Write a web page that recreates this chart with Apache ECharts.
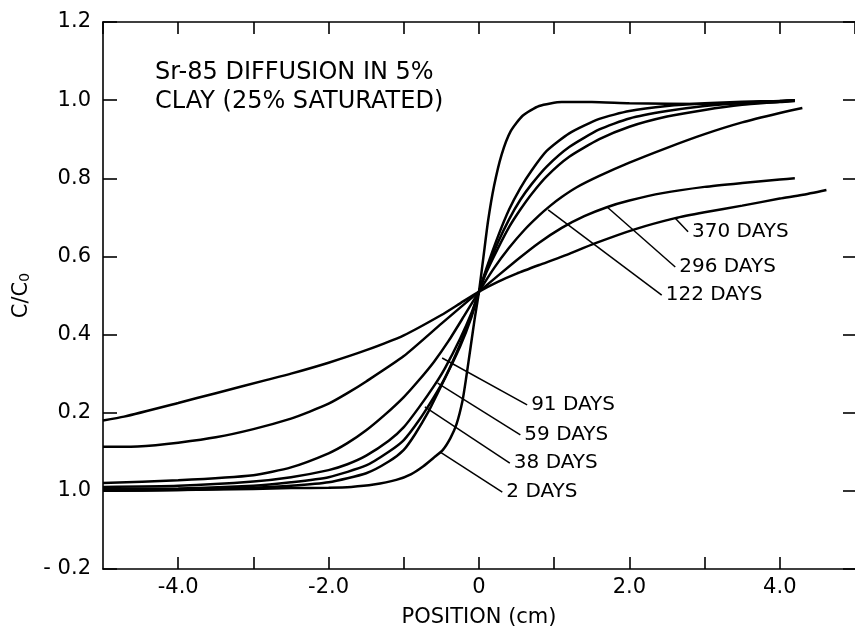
<!DOCTYPE html>
<html>
<head>
<meta charset="utf-8">
<script src="https://cdn.jsdelivr.net/npm/echarts@6/dist/echarts.min.js"></script>
<style>html,body{margin:0;padding:0;background:#fff}#c{width:855px;height:636px}</style>
</head>
<body>
<div id="c"></div>
<script>
// ---- data (x in cm, y = C/C0) ----
const xTicks = [-4, -3, -2, -1, 0, 1, 2, 3, 4];
const yTicks = [-0.2, 0, 0.2, 0.4, 0.6, 0.8, 1.0, 1.2];
const titleLines = ["Sr-85 DIFFUSION IN 5%", "CLAY (25% SATURATED)"];
const curveNames = ["2 DAYS", "38 DAYS", "59 DAYS", "91 DAYS", "122 DAYS", "296 DAYS", "370 DAYS"];

const d2 = [[-5,0.0],[-4,0.002],[-3,0.005],[-2.5,0.007],[-2,0.008],[-1.7,0.01],[-1.4,0.016],[-1.1,0.028],[-0.9,0.043],[-0.74,0.063],[-0.6,0.085],[-0.48,0.105],[-0.38,0.135],[-0.3,0.17],[-0.22,0.23],[-0.17,0.29],[-0.11,0.37],[-0.06,0.437],[0,0.51],[0.06,0.6],[0.12,0.69],[0.2,0.78],[0.3,0.86],[0.42,0.92],[0.58,0.96],[0.8,0.985],[1.1,0.995],[1.5,0.995],[2,0.992],[3,0.99],[4,0.995],[4.2,0.998]];
const d38 = [[-5,0.0],[-4,0.002],[-3,0.008],[-2.5,0.013],[-2,0.022],[-1.5,0.045],[-1.2,0.075],[-1,0.105],[-0.85,0.145],[-0.68,0.2],[-0.55,0.25],[-0.4,0.31],[-0.25,0.375],[-0.1,0.45],[0,0.51],[0.1,0.57],[0.25,0.65],[0.4,0.72],[0.55,0.775],[0.7,0.82],[0.9,0.87],[1.2,0.915],[1.6,0.952],[2,0.972],[2.5,0.985],[3,0.992],[3.5,0.996],[4,0.998],[4.2,1.0]];
const d59 = [[-5,0.005],[-4,0.006],[-3,0.013],[-2.5,0.022],[-2,0.035],[-1.5,0.065],[-1.2,0.1],[-1,0.13],[-0.8,0.18],[-0.6,0.24],[-0.45,0.29],[-0.25,0.37],[-0.1,0.445],[0,0.51],[0.1,0.565],[0.25,0.635],[0.4,0.695],[0.55,0.745],[0.7,0.785],[0.9,0.83],[1.2,0.88],[1.6,0.925],[2,0.953],[2.5,0.972],[3,0.985],[3.5,0.993],[4,0.998],[4.2,1.0]];
const d91 = [[-5,0.01],[-4,0.013],[-3,0.024],[-2.5,0.035],[-2,0.053],[-1.75,0.068],[-1.5,0.09],[-1.2,0.128],[-1,0.163],[-0.8,0.213],[-0.6,0.268],[-0.45,0.315],[-0.25,0.39],[-0.1,0.455],[0,0.51],[0.1,0.56],[0.25,0.62],[0.4,0.675],[0.55,0.72],[0.7,0.76],[0.9,0.805],[1.2,0.855],[1.6,0.9],[2,0.932],[2.5,0.958],[3,0.975],[3.5,0.988],[4,0.996],[4.2,1.0]];
const d122 = [[-5,0.02],[-4,0.027],[-3,0.04],[-2.5,0.06],[-2,0.096],[-1.75,0.122],[-1.5,0.155],[-1.25,0.195],[-1,0.24],[-0.8,0.283],[-0.6,0.33],[-0.4,0.385],[-0.2,0.447],[0,0.51],[0.2,0.57],[0.4,0.622],[0.6,0.667],[0.8,0.705],[0.95,0.73],[1.1,0.752],[1.3,0.777],[1.6,0.806],[2,0.84],[2.5,0.878],[3,0.913],[3.5,0.943],[4,0.967],[4.3,0.98]];
const d296 = [[-5,0.113],[-4.7,0.113],[-4.3,0.117],[-4,0.123],[-3.5,0.137],[-3,0.158],[-2.5,0.185],[-2.25,0.203],[-2,0.223],[-1.75,0.25],[-1.5,0.28],[-1,0.345],[-0.5,0.428],[0,0.51],[0.5,0.59],[0.8,0.635],[1.1,0.673],[1.4,0.703],[1.7,0.726],[2,0.743],[2.44,0.762],[3,0.778],[3.5,0.788],[4,0.797],[4.2,0.80]];
const d370 = [[-5,0.18],[-4.72,0.19],[-4,0.225],[-3.5,0.25],[-2.82,0.284],[-2.5,0.30],[-2,0.328],[-1.5,0.36],[-1,0.398],[-0.5,0.45],[-0.25,0.48],[0,0.51],[0.25,0.535],[0.5,0.556],[0.8,0.578],[1.11,0.6],[1.55,0.634],[2.08,0.67],[2.61,0.698],[3,0.713],[3.5,0.73],[4,0.748],[4.29,0.757],[4.62,0.77]];
const curves = [d2, d38, d59, d91, d122, d296, d370];

// leader lines: [label anchor], [point on curve] (data units)
const leaders = [
  [[0.31,-0.003],[-0.52,0.10]],
  [[0.41,0.071],[-0.72,0.215]],
  [[0.55,0.143],[-0.55,0.276]],
  [[0.64,0.22],[-0.49,0.34]],
  [[2.43,0.501],[0.92,0.719]],
  [[2.61,0.573],[1.70,0.727]],
  [[2.78,0.663],[2.61,0.698]]
];

const FONT = 'DejaVu Sans';
const chart = echarts.init(document.getElementById('c'), null, {renderer:'canvas'});

const series = [];
curves.forEach((d, i) => {
  series.push({
    type:'line', name:curveNames[i], data:d, showSymbol:false, symbol:'none',
    smooth:0.2,
    lineStyle:{color:'#000', width:2.5}, z:3, silent:true
  });
});
leaders.forEach((l, i) => {
  series.push({
    type:'line', data:l, showSymbol:false, symbol:'none',
    lineStyle:{color:'#000', width:1.5}, z:2, silent:true
  });
});
series.push({
  type:'scatter', symbolSize:0, itemStyle:{opacity:1, color:'#000'},
  data: leaders.map((l, i) => ({value:l[0], name:curveNames[i]})),
  label:{show:true, position:'right', distance:4, formatter:p=>p.name, opacity:1,
         color:'#000', fontFamily:FONT, fontSize:20},
  silent:true, z:4
});

const axisLineStyle = {color:'#000', width:1.6};
const tickStyle = {color:'#000', width:1.6};
chart.setOption({
  animation:false,
  backgroundColor:'#fff',
  title:{
    text: titleLines.join('\n'), left:155, top:58, padding:0,
    textStyle:{fontFamily:FONT, fontSize:24, fontWeight:'normal', color:'#000', lineHeight:29}
  },
  grid:{left:103, top:22, width:752, height:547},
  xAxis:[{
    type:'value', min:-5, max:5, interval:1, position:'bottom',
    axisLine:{show:true, onZero:false, lineStyle:axisLineStyle},
    axisTick:{show:true, inside:true, length:12, lineStyle:tickStyle},
    splitLine:{show:false},
    axisLabel:{margin:8, color:'#000', fontFamily:FONT, fontSize:21, showMinLabel:false, showMaxLabel:false,
      formatter:v => (Math.abs(v)%2===0 && Math.abs(v)<5) ? (v===0 ? '0' : v.toFixed(1)) : ''},
    name:'POSITION (cm)', nameLocation:'middle', nameGap:38,
    nameTextStyle:{color:'#000', fontFamily:FONT, fontSize:21}
  },{
    type:'value', min:-5, max:5, interval:1, position:'top',
    axisLine:{show:true, onZero:false, lineStyle:axisLineStyle},
    axisTick:{show:true, inside:true, length:12, lineStyle:tickStyle},
    axisLabel:{show:false}, splitLine:{show:false}
  }],
  yAxis:[{
    type:'value', min:-0.2, max:1.2, interval:0.2, position:'left',
    axisLine:{show:true, onZero:false, lineStyle:axisLineStyle},
    axisTick:{show:true, inside:true, length:14, lineStyle:tickStyle},
    splitLine:{show:false},
    axisLabel:{margin:12, color:'#000', fontFamily:FONT, fontSize:21,
      formatter:v => { const r = Math.round(v*10)/10; if (r===0) return '1.0'; if (r===-0.2) return '- 0.2'; return r.toFixed(1); }},
    name:'{a|C/C}{b|0}', nameLocation:'middle', nameGap:58, nameRotate:90,
    nameTextStyle:{rich:{a:{color:'#000', fontFamily:FONT, fontSize:21}, b:{color:'#000', fontFamily:FONT, fontSize:14, padding:[8,0,0,0]}}}
  },{
    type:'value', min:-0.2, max:1.2, interval:0.2, position:'right',
    axisLine:{show:false, onZero:false},
    axisTick:{show:true, inside:true, length:12, lineStyle:tickStyle},
    axisLabel:{show:false}, splitLine:{show:false}
  }],
  series: series
});
</script>
</body>
</html>
